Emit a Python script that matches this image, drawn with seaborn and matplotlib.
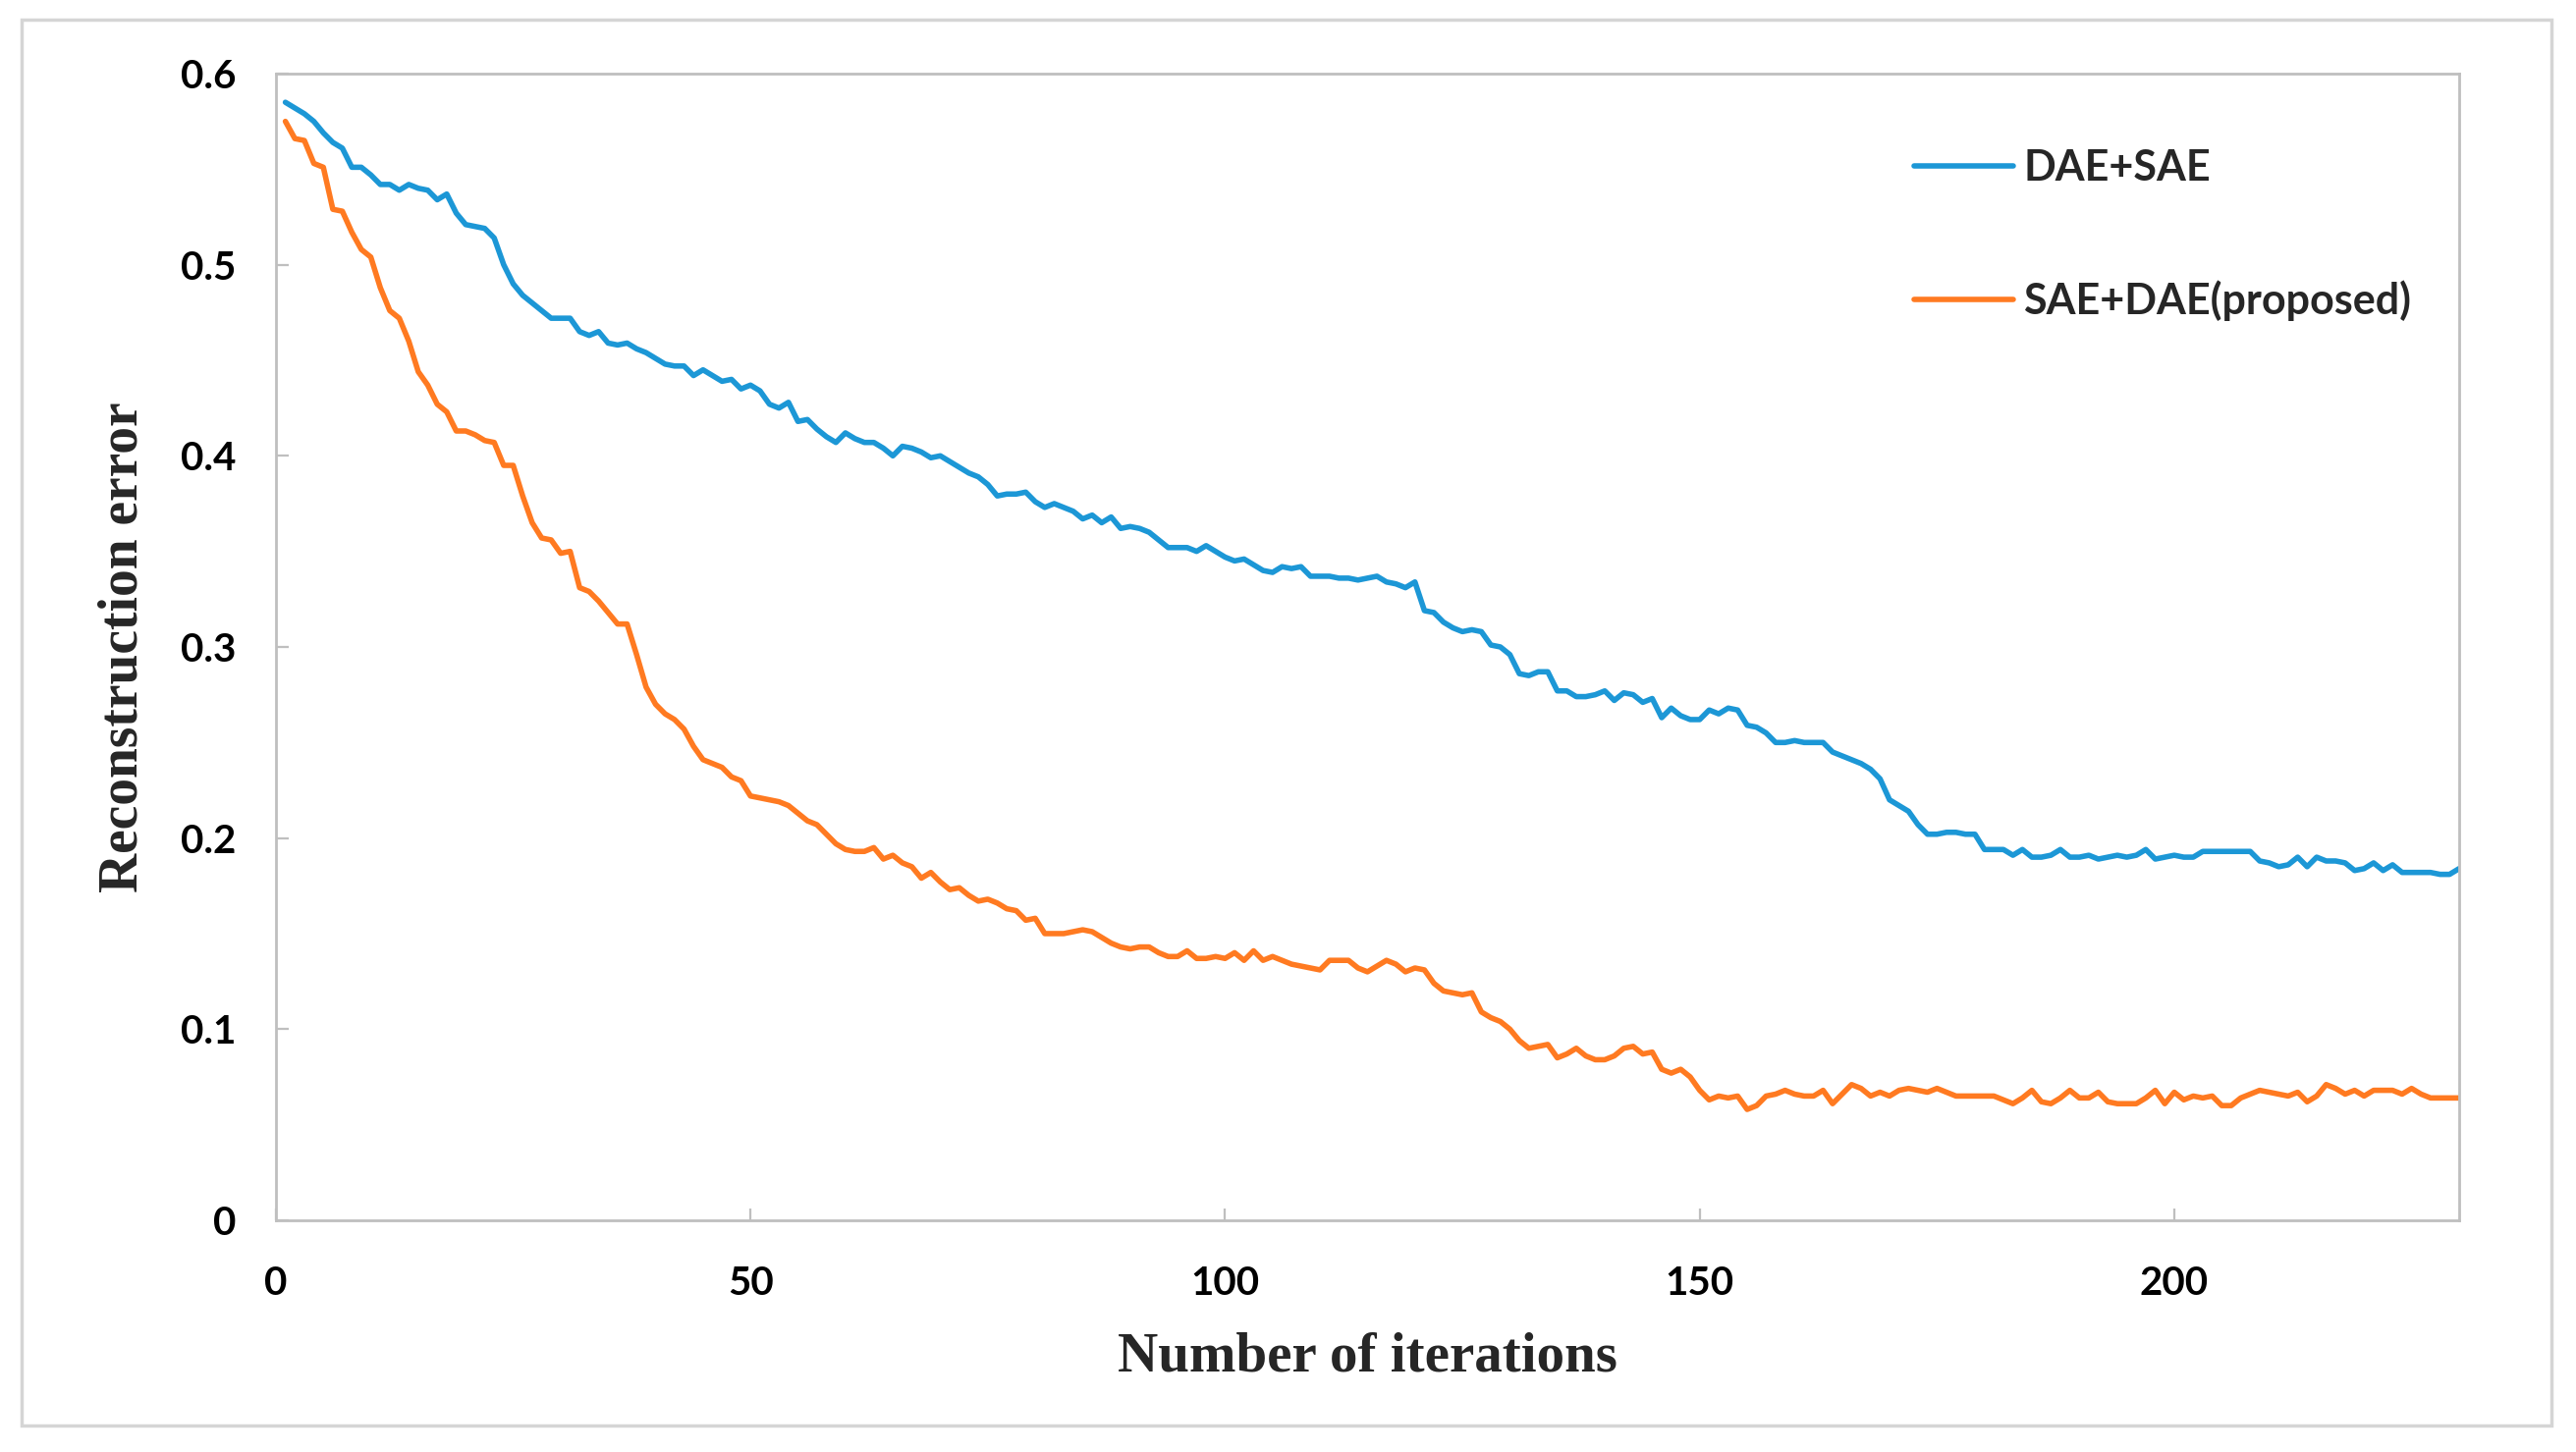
import matplotlib
matplotlib.use("Agg")
import pandas as pd
import matplotlib.pyplot as plt
import seaborn as sns
from matplotlib.patches import Rectangle
from matplotlib.ticker import FuncFormatter

# --- DATA ---
ITERATIONS = list(range(1, 231))

DAE_SAE = [
    0.585, 0.582, 0.579, 0.575, 0.569, 0.564, 0.561, 0.551, 0.551, 0.547,
    0.542, 0.542, 0.539, 0.542, 0.540, 0.539, 0.534, 0.537, 0.527, 0.521,
    0.520, 0.519, 0.514, 0.500, 0.490, 0.484, 0.480, 0.476, 0.472, 0.472,
    0.472, 0.465, 0.463, 0.465, 0.459, 0.458, 0.459, 0.456, 0.454, 0.451,
    0.448, 0.447, 0.447, 0.442, 0.445, 0.442, 0.439, 0.440, 0.435, 0.437,
    0.434, 0.427, 0.425, 0.428, 0.418, 0.419, 0.414, 0.410, 0.407, 0.412,
    0.409, 0.407, 0.407, 0.404, 0.400, 0.405, 0.404, 0.402, 0.399, 0.400,
    0.397, 0.394, 0.391, 0.389, 0.385, 0.379, 0.380, 0.380, 0.381, 0.376,
    0.373, 0.375, 0.373, 0.371, 0.367, 0.369, 0.365, 0.368, 0.362, 0.363,
    0.362, 0.360, 0.356, 0.352, 0.352, 0.352, 0.350, 0.353, 0.350, 0.347,
    0.345, 0.346, 0.343, 0.340, 0.339, 0.342, 0.341, 0.342, 0.337, 0.337,
    0.337, 0.336, 0.336, 0.335, 0.336, 0.337, 0.334, 0.333, 0.331, 0.334,
    0.319, 0.318, 0.313, 0.310, 0.308, 0.309, 0.308, 0.301, 0.300, 0.296,
    0.286, 0.285, 0.287, 0.287, 0.277, 0.277, 0.274, 0.274, 0.275, 0.277,
    0.272, 0.276, 0.275, 0.271, 0.273, 0.263, 0.268, 0.264, 0.262, 0.262,
    0.267, 0.265, 0.268, 0.267, 0.259, 0.258, 0.255, 0.250, 0.250, 0.251,
    0.250, 0.250, 0.250, 0.245, 0.243, 0.241, 0.239, 0.236, 0.231, 0.220,
    0.217, 0.214, 0.207, 0.202, 0.202, 0.203, 0.203, 0.202, 0.202, 0.194,
    0.194, 0.194, 0.191, 0.194, 0.190, 0.190, 0.191, 0.194, 0.190, 0.190,
    0.191, 0.189, 0.190, 0.191, 0.190, 0.191, 0.194, 0.189, 0.190, 0.191,
    0.190, 0.190, 0.193, 0.193, 0.193, 0.193, 0.193, 0.193, 0.188, 0.187,
    0.185, 0.186, 0.190, 0.185, 0.190, 0.188, 0.188, 0.187, 0.183, 0.184,
    0.187, 0.183, 0.186, 0.182, 0.182, 0.182, 0.182, 0.181, 0.181, 0.184,
]

SAE_DAE = [
    0.575, 0.566, 0.565, 0.553, 0.551, 0.529, 0.528, 0.517, 0.508, 0.504,
    0.488, 0.476, 0.472, 0.460, 0.444, 0.437, 0.427, 0.423, 0.413, 0.413,
    0.411, 0.408, 0.407, 0.395, 0.395, 0.379, 0.365, 0.357, 0.356, 0.349,
    0.350, 0.331, 0.329, 0.324, 0.318, 0.312, 0.312, 0.296, 0.279, 0.270,
    0.265, 0.262, 0.257, 0.248, 0.241, 0.239, 0.237, 0.232, 0.230, 0.222,
    0.221, 0.220, 0.219, 0.217, 0.213, 0.209, 0.207, 0.202, 0.197, 0.194,
    0.193, 0.193, 0.195, 0.189, 0.191, 0.187, 0.185, 0.179, 0.182, 0.177,
    0.173, 0.174, 0.170, 0.167, 0.168, 0.166, 0.163, 0.162, 0.157, 0.158,
    0.150, 0.150, 0.150, 0.151, 0.152, 0.151, 0.148, 0.145, 0.143, 0.142,
    0.143, 0.143, 0.140, 0.138, 0.138, 0.141, 0.137, 0.137, 0.138, 0.137,
    0.140, 0.136, 0.141, 0.136, 0.138, 0.136, 0.134, 0.133, 0.132, 0.131,
    0.136, 0.136, 0.136, 0.132, 0.130, 0.133, 0.136, 0.134, 0.130, 0.132,
    0.131, 0.124, 0.120, 0.119, 0.118, 0.119, 0.109, 0.106, 0.104, 0.100,
    0.094, 0.090, 0.091, 0.092, 0.085, 0.087, 0.090, 0.086, 0.084, 0.084,
    0.086, 0.090, 0.091, 0.087, 0.088, 0.079, 0.077, 0.079, 0.075, 0.068,
    0.063, 0.065, 0.064, 0.065, 0.058, 0.060, 0.065, 0.066, 0.068, 0.066,
    0.065, 0.065, 0.068, 0.061, 0.066, 0.071, 0.069, 0.065, 0.067, 0.065,
    0.068, 0.069, 0.068, 0.067, 0.069, 0.067, 0.065, 0.065, 0.065, 0.065,
    0.065, 0.063, 0.061, 0.064, 0.068, 0.062, 0.061, 0.064, 0.068, 0.064,
    0.064, 0.067, 0.062, 0.061, 0.061, 0.061, 0.064, 0.068, 0.061, 0.067,
    0.063, 0.065, 0.064, 0.065, 0.060, 0.060, 0.064, 0.066, 0.068, 0.067,
    0.066, 0.065, 0.067, 0.062, 0.065, 0.071, 0.069, 0.066, 0.068, 0.065,
    0.068, 0.068, 0.068, 0.066, 0.069, 0.066, 0.064, 0.064, 0.064, 0.064,
]

SERIES_NAMES = ["DAE+SAE", "SAE+DAE(proposed)"]
X_TICKS = [0, 50, 100, 150, 200]
Y_TICKS = [0, 0.1, 0.2, 0.3, 0.4, 0.5, 0.6]
X_LABEL = "Number of iterations"
Y_LABEL = "Reconstruction error"

# --- STYLE ---
PALETTE = {"DAE+SAE": "#1C97D6", "SAE+DAE(proposed)": "#FF7A21"}
AXIS_GRAY = "#BFBFBF"
LINE_W = 4.0

df = pd.DataFrame({
    "iteration": ITERATIONS * 2,
    "error": DAE_SAE + SAE_DAE,
    "model": [SERIES_NAMES[0]] * len(DAE_SAE) + [SERIES_NAMES[1]] * len(SAE_DAE),
})

sns.set_theme(style="white")
plt.rcParams["font.family"] = ["Lato", "DejaVu Sans"]

fig = plt.figure(figsize=(26.23, 14.79), dpi=100)
ax = fig.add_axes([0.1071, 0.1596, 0.8475, 0.7897])

sns.lineplot(data=df, x="iteration", y="error", hue="model",
             palette=PALETTE, linewidth=LINE_W, ax=ax)

ax.set_xlim(0, 230)
ax.set_ylim(0, 0.6)
ax.set_xticks(X_TICKS)
ax.set_yticks(Y_TICKS)
ax.yaxis.set_major_formatter(FuncFormatter(lambda v, p: "0" if v == 0 else f"{v:.1f}"))

for side in ["left", "bottom", "top", "right"]:
    ax.spines[side].set_visible(True)
    ax.spines[side].set_color(AXIS_GRAY)
    ax.spines[side].set_linewidth(2)

ax.tick_params(axis="both", direction="in", length=9, width=1.6, color=AXIS_GRAY,
               labelsize=29, labelcolor="black")
ax.tick_params(axis="x", pad=33, top=False, bottom=True)
ax.tick_params(axis="y", pad=29, right=False, left=True)
for lab in ax.get_xticklabels() + ax.get_yticklabels():
    lab.set_fontweight("bold")

ax.set_xlabel(X_LABEL, family="Liberation Serif", fontweight="bold", fontsize=41)
ax.set_ylabel(Y_LABEL, family="Liberation Serif", fontweight="bold", fontsize=40)
ax.xaxis.set_label_coords(0.5, -0.097)
ax.yaxis.set_label_coords(-0.058, 0.5)

# legend without frame, upper right inside the plot
handles, labels = ax.get_legend_handles_labels()
ax.get_legend().remove()
for h in handles:
    h.set_linewidth(LINE_W)
ax.legend(handles, labels, loc="upper left", bbox_to_anchor=(0.743, 0.898),
          bbox_transform=fig.transFigure, frameon=False, borderpad=0,
          borderaxespad=0, handlelength=2.35, handletextpad=0.24,
          labelspacing=2.2, prop={"family": "Lato", "weight": "bold", "size": 31})

# thin light frame around the whole figure
fig.patches.append(Rectangle((0.0084, 0.0183), 0.982, 0.968, transform=fig.transFigure,
                             fill=False, edgecolor="#D5D5D5", linewidth=2.5))

fig.savefig("out.png", dpi=100, facecolor="white")
